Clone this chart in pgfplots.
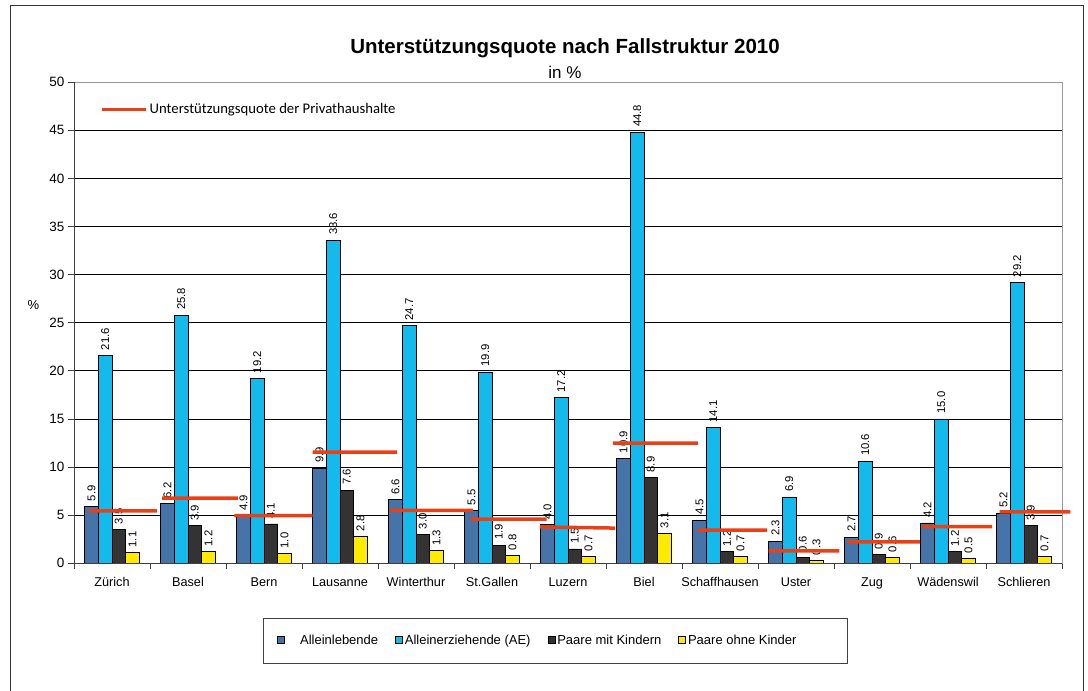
\documentclass[border=0pt]{standalone}
\usepackage{pgfplots}
\usepackage{pgfplotstable}
\pgfplotsset{compat=1.18}
\usepackage{fontspec}
\setmainfont{Liberation Sans}
\newfontfamily\calibri{Carlito}
\definecolor{cA}{HTML}{4673A8}
\definecolor{cB}{HTML}{14BAEC}
\definecolor{cC}{HTML}{333333}
\definecolor{cD}{HTML}{FFEB00}
\definecolor{cR}{HTML}{E84118}

\pgfplotstableread{
x a ae pm po
1 5.9 21.6 3.5 1.1
2 6.2 25.8 3.9 1.2
3 4.9 19.2 4.1 1.0
4 9.9 33.6 7.6 2.8
5 6.6 24.7 3.0 1.3
6 5.5 19.9 1.9 0.8
7 4.0 17.2 1.5 0.7
8 10.9 44.8 8.9 3.1
9 4.5 14.1 1.2 0.7
10 2.3 6.9 0.6 0.3
11 2.7 10.6 0.9 0.6
12 4.2 15.0 1.2 0.5
13 5.2 29.2 3.9 0.7
}\bars

\pgfplotstableread{
x y
0.70 5.45
1.59 5.45
nan nan
1.66 6.77
2.66 6.77
nan nan
2.61 4.96
3.64 4.96
nan nan
3.64 11.56
4.75 11.56
nan nan
4.66 5.50
5.75 5.50
nan nan
5.72 4.58
6.72 4.58
nan nan
6.63 3.78
7.62 3.66
nan nan
7.59 12.50
8.71 12.50
nan nan
8.71 3.44
9.62 3.44
nan nan
9.64 1.28
10.57 1.28
nan nan
10.68 2.22
11.63 2.22
nan nan
11.66 3.81
12.58 3.81
nan nan
12.68 5.34
13.61 5.34
}\quote

\begin{document}
\begin{tikzpicture}
\path[use as bounding box] (0pt,0pt) rectangle (1088pt,691pt);
\draw[black!80, line width=1pt] (10pt,-5pt) -- (10pt,685pt) -- (1083pt,685pt) -- (1083pt,-5pt);

\node[font=\bfseries\fontsize{20.5}{24}\selectfont] at (565pt,643pt) {Unterstützungsquote nach Fallstruktur 2010};
\node[font=\fontsize{17}{20}\selectfont] at (565pt,618.5pt) {in \%};
\node[font=\fontsize{13}{15}\selectfont] at (33.5pt,386pt) {\%};

\begin{axis}[
  at={(74pt,127.7pt)}, anchor=south west,
  scale only axis, width=988pt, height=481pt,
  xmin=0.5, xmax=13.5, ymin=0, ymax=50,
  ybar=0pt, bar width=13.7pt,
  xtick={0.5,1.5,...,13.5}, xticklabels={},
  extra x ticks={1,2,...,13},
  extra x tick labels={Zürich,Basel,Bern,Lausanne,Winterthur,St.Gallen,Luzern,Biel,Schaffhausen,Uster,Zug,Wädenswil,Schlieren},
  extra x tick style={major tick length=0pt, tick style={draw=none}, grid=none},
  xticklabel style={font=\fontsize{12.7}{14}\selectfont, anchor=north, text height=9.5pt, text depth=2.5pt, yshift=-10pt},
  ytick={0,5,...,50},
  yticklabel style={font=\fontsize{13.5}{15}\selectfont},
  /pgf/number format/assume math mode=true,
  ymajorgrids, major grid style={black, line width=0.8pt},
  tick align=outside, xtick pos=bottom, ytick pos=left,
  major tick length=6pt,
  tick style={black!75, line width=0.8pt},
  axis line style={black!40, line width=0.8pt},
  nodes near coords={\pgfmathprintnumber[fixed,fixed zerofill,precision=1,assume math mode=true]{\pgfplotspointmeta}},
  every node near coord/.append style={font=\fontsize{11.3}{12}\selectfont, rotate=90, anchor=west, inner xsep=5pt, inner ysep=0pt, black},
  sq legend/.style={legend image code/.code={\draw[##1, draw=black, line width=0.7pt] (0pt,-3pt) rectangle (7pt,4.5pt);}},
  legend columns=4,
  legend style={at={(0.1913,-0.1137)}, anchor=north west, draw=black!75, line width=0.8pt,
    inner xsep=14pt, inner ysep=15pt, font=\fontsize{13}{15}\selectfont,
    /tikz/every even column/.append style={column sep=15pt}},
  legend cell align=left,
]
\addplot[fill=cA, draw=black, line width=0.7pt, sq legend] table[x=x,y=a] {\bars};
\addlegendentry{\hspace*{13pt}Alleinlebende}
\addplot[fill=cB, draw=black, line width=0.7pt, sq legend] table[x=x,y=ae] {\bars};
\addlegendentry{Alleinerziehende (AE)}
\addplot[fill=cC, draw=black, line width=0.7pt, sq legend] table[x=x,y=pm] {\bars};
\addlegendentry{Paare mit Kindern}
\addplot[fill=cD, draw=black, line width=0.7pt, sq legend] table[x=x,y=po] {\bars};
\addlegendentry{\makebox[143pt][l]{Paare ohne Kinder}}
\draw[black!75, line width=1.3pt] (rel axis cs:0,1) -- (rel axis cs:0,0) -- (rel axis cs:1,0);
\end{axis}

\begin{axis}[
  at={(74pt,127.7pt)}, anchor=south west,
  scale only axis, width=988pt, height=481pt,
  xmin=0.5, xmax=13.5, ymin=0, ymax=50,
  hide axis, clip=false, unbounded coords=jump,
  legend image code/.code={\draw[#1] (0pt,0pt) -- (44pt,0pt);},
  legend style={at={(0.0263,0.9439)}, anchor=west, draw=none, fill=none, inner sep=0pt,
    font=\calibri\fontsize{14.7}{16}\selectfont},
]
\addplot[color=cR, line width=3.5pt, mark=none] table[x=x,y=y] {\quote};
\addlegendentry{Unterstützungsquote der Privathaushalte}
\end{axis}
\end{tikzpicture}
\end{document}
